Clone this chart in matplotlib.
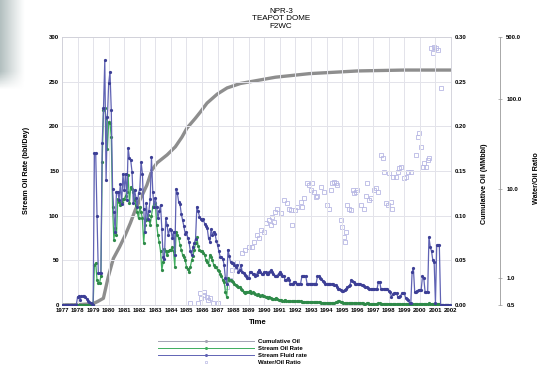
"""NPR-3 Teapot Dome, poço F2WC: vazões, óleo acumulado e razão água/óleo."""

import matplotlib
matplotlib.use("Agg")
import matplotlib.pyplot as plt
import numpy as np
from matplotlib.lines import Line2D
from matplotlib.ticker import FixedLocator, FormatStrFormatter, NullLocator

plt.rcParams["font.family"] = ["Liberation Sans", "DejaVu Sans"]

# vazao de fluido (bbl/dia), mensal, jan/1977 .. dez/2001
fluid_rate = [
    0, 0, 0, 0, 0, 0, 0, 0, 0, 0, 0, 0,                      # 1977
    9, 10, 6, 10, 10, 10, 9, 7, 5, 3, 2, 1,                  # 1978
    0, 170, 170, 100, 36, 36, 36, 181, 220, 274, 140, 210,   # 1979
    248, 261, 218, 130, 104, 82, 127, 127, 118, 135, 113, 147,  # 1980
    129, 147, 118, 176, 164, 162, 149, 114, 129, 120, 110, 125,  # 1981
    130, 160, 147, 108, 82, 114, 96, 105, 119, 166, 127, 110,    # 1982
    120, 110, 97, 105, 112, 85, 54, 52, 97, 90, 78, 85,      # 1983
    84, 75, 82, 56, 130, 125, 115, 113, 102, 95, 88, 80,     # 1984
    82, 75, 70, 60, 56, 65, 69, 74, 110, 105, 99, 96,        # 1985
    95, 96, 91, 88, 86, 75, 71, 85, 78, 82, 80, 72,          # 1986
    67, 60, 54, 54, 52, 45, 30, 24, 62, 55, 48, 47,          # 1987
    47, 45, 43, 45, 37, 39, 45, 37, 36, 34, 33, 30,          # 1988
    30, 37, 37, 35, 35, 33, 34, 37, 39, 37, 35, 35,          # 1989
    37, 37, 35, 35, 37, 39, 37, 35, 33, 33, 33, 35,          # 1990
    37, 35, 33, 33, 28, 28, 30, 28, 24, 24, 24, 26,          # 1991
    26, 24, 24, 24, 24, 32, 32, 32, 32, 24, 24, 24,          # 1992
    24, 24, 24, 24, 24, 32, 32, 30, 29, 27, 26, 24,          # 1993
    24, 24, 24, 24, 23, 23, 22, 22, 20, 18, 18, 17,          # 1994
    16, 16, 17, 18, 20, 21, 22, 28, 27, 26, 24, 24,          # 1995
    24, 24, 23, 22, 22, 21, 20, 20, 19, 18, 18, 18,          # 1996
    18, 18, 18, 18, 26, 26, 18, 18, 18, 18, 18, 18,          # 1997
    16, 15, 9, 12, 13, 13, 13, 9, 9, 10, 13, 13,             # 1998
    13, 8, 7, 6, 2, 2, 37, 41, 15, 15, 16, 17,               # 1999
    17, 17, 32, 30, 15, 14, 14, 76, 65, 60, 50, 48,          # 2000
    2, 67, 67, 67, 0, 0, 0, 0, 0, 0, 0, 0,                   # 2001
]

# vazao de oleo (bbl/dia), mensal
oil_rate = [
    0, 0, 0, 0, 0, 0, 0, 0, 0, 0, 0, 0,                      # 1977
    0, 0, 0, 0, 0, 0, 0, 0, 0, 0, 0, 0,                      # 1978
    0, 45, 47, 28, 25, 25, 32, 160, 218, 220, 209, 175,      # 1979
    205, 204, 188, 110, 73, 86, 78, 119, 115, 112, 115, 119, # 1980
    119, 122, 127, 145, 114, 132, 130, 127, 118, 112, 104, 97,  # 1981
    110, 104, 97, 69, 90, 95, 101, 95, 90, 100, 110, 114,    # 1982
    114, 90, 78, 70, 60, 39, 48, 63, 60, 56, 60, 62,         # 1983
    62, 65, 60, 43, 82, 78, 75, 67, 62, 56, 54, 50,          # 1984
    43, 40, 37, 43, 50, 55, 62, 69, 76, 66, 62, 60,          # 1985
    60, 58, 56, 50, 48, 45, 56, 54, 50, 45, 43, 42,          # 1986
    39, 38, 35, 32, 28, 26, 15, 9, 30, 28, 28, 27,           # 1987
    26, 24, 22, 21, 20, 20, 18, 17, 15, 13, 15, 14,          # 1988
    15, 16, 13, 14, 13, 12, 11, 12, 11, 10, 11, 10,          # 1989
    10, 9, 9, 8, 9, 8, 7, 7, 7, 8, 7, 6,                     # 1990
    6, 6, 5, 5, 6, 5, 4, 4, 4, 4, 4, 4,                      # 1991
    4, 4, 4, 4, 4, 3.5, 3.5, 3.5, 3.5, 3.5, 3, 3,            # 1992
    3, 3, 3, 3, 3, 3, 3, 3, 2.5, 2.5, 2.5, 2.5,              # 1993
    2.5, 2.5, 2.5, 2.5, 2.5, 2.5, 2.5, 3, 3.5, 4, 4, 3.5,    # 1994
    3, 2.5, 2.5, 2, 2, 2, 2, 2, 2, 2, 2, 2,                  # 1995
    2, 2, 2.5, 2, 2, 1.5, 1.5, 2, 2, 1.5, 1.5, 1.5,          # 1996
    1.5, 1.5, 1.5, 1.5, 2, 2, 1.5, 1.5, 1.5, 1.5, 1.5, 1.5,  # 1997
    1.5, 1.5, 1, 1, 1, 1, 1, 1, 1, 1, 1, 1,                  # 1998
    1, 1, 1, 1, 0.5, 0.5, 1.5, 1.5, 1, 1, 1, 1,              # 1999
    1, 1, 1.5, 1.5, 1, 1, 1, 2, 1.5, 1.5, 1, 1,              # 2000
    0, 1, 1, 1, 0, 0, 0, 0, 0, 0, 0, 0,                      # 2001
]

# oleo acumulado (MMbbl)
cum_years = [1977.0, 1978.0, 1979.0, 1979.3, 1979.66, 1979.98, 1980.3, 1980.7,
             1981.06, 1981.4, 1981.7, 1982.1, 1982.45, 1982.78, 1983.1, 1983.75,
             1984.28, 1984.71, 1985.03, 1985.57, 1985.89, 1986.32, 1986.97,
             1987.61, 1988.47, 1989.76, 1990.72, 1992.9, 1996.0, 1999.0, 2001.92]
cum_oil = [0, 0.0003, 0.0015, 0.004, 0.0075, 0.032, 0.052, 0.065,
           0.078, 0.092, 0.106, 0.121, 0.134, 0.151, 0.159, 0.168,
           0.177, 0.188, 0.198, 0.209, 0.216, 0.226, 0.236,
           0.243, 0.248, 0.252, 0.255, 0.259, 0.262, 0.263, 0.263]

# razao agua/oleo
wor_years = [1985.25, 1985.76, 1985.9, 1985.95, 1986.1, 1986.15, 1986.3, 1986.4,
             1986.5, 1986.7, 1987.0, 1987.61, 1987.82, 1987.93, 1988.15, 1988.26,
             1988.58, 1988.79, 1989.0, 1989.22, 1989.33, 1989.55, 1989.65, 1989.76,
             1989.97, 1990.08, 1990.29, 1990.4, 1990.51, 1990.6, 1990.72, 1990.83,
             1991.05, 1991.26, 1991.48, 1991.58, 1991.69, 1991.8, 1992.0, 1992.12,
             1992.34, 1992.44, 1992.55, 1992.77, 1992.87, 1992.98, 1993.09, 1993.19,
             1993.3, 1993.41, 1993.62, 1993.84, 1994.05, 1994.16, 1994.27, 1994.38,
             1994.48, 1994.59, 1994.7, 1994.91, 1995.02, 1995.13, 1995.18, 1995.23,
             1995.34, 1995.45, 1995.56, 1995.67, 1995.77, 1995.88, 1995.99, 1996.2,
             1996.41, 1996.52, 1996.63, 1996.74, 1996.85, 1997.06, 1997.17, 1997.28,
             1997.49, 1997.6, 1997.7, 1997.81, 1997.92, 1998.02, 1998.13, 1998.24,
             1998.3, 1998.46, 1998.57, 1998.67, 1998.78, 1999.0, 1999.1, 1999.21,
             1999.42, 1999.75, 1999.85, 1999.96, 2000.07, 2000.18, 2000.28, 2000.39,
             2000.5, 2000.6, 2000.71, 2000.82, 2000.92, 2001.03, 2001.14, 2001.36]
wor = [0.53, 0.53, 0.68, 0.6, 0.70, 0.65, 0.61, 0.57,
       0.6, 0.53, 0.53, 0.80, 0.95, 1.23, 1.33, 1.53,
       1.90, 2.07, 2.25, 2.25, 2.56, 3.04, 2.79, 3.45,
       3.3, 4.1, 4.47, 3.93, 4.87, 4.28, 5.5, 6.0,
       5.3, 7.5, 6.9, 6.0, 5.8, 3.93, 5.8, 6.3,
       7.2, 6.3, 7.8, 11.5, 11.0, 9.7, 11.5, 9.3,
       8.1, 8.4, 10.5, 9.3, 6.6, 6.0, 9.7, 11.5,
       12.0, 11.5, 11.0, 4.47, 3.76, 2.9, 2.55, 3.3,
       6.6, 6.0, 5.8, 9.7, 9.0, 9.3, 9.7, 6.6,
       6.0, 8.4, 11.5, 7.5, 7.8, 9.7, 10.1, 9.3,
       23.9, 21.9, 15.5, 6.9, 6.6, 14.9, 7.2, 6.0,
       13.6, 13.6, 15.5, 16.9, 17.7, 13.1, 13.6, 15.5,
       15.5, 23.9, 38.3, 42.4, 29.6, 17.7, 19.3, 17.7,
       21.0, 21.9, 373, 329, 389, 373, 357, 133]

year_ticks = list(range(1977, 2003))
rate_ticks = [0, 50, 100, 150, 200, 250, 300]
cum_ticks = [0.0, 0.05, 0.10, 0.15, 0.20, 0.25, 0.30]
wor_ticks = [0.5, 1.0, 10.0, 100.0, 500.0]

months = 1977 + np.arange(len(fluid_rate)) / 12

cor_fluido = "#6063b4"
cor_oleo = "#3fae5e"
cor_acum = "#8e8e8e"
cor_wor = "#b8b8e4"
cor_grade = "#e3e3ea"

fig = plt.figure(figsize=(5.5, 3.7), dpi=100)

# faixa cinza do slide no canto superior esquerdo
faixa = fig.add_axes([0, 1 - 90 / 370, 24 / 550, 90 / 370])
grad = np.linspace(0, 1, 60)
img = np.ones((60, 60, 4))
img[..., 0] = 0.70
img[..., 1] = 0.75
img[..., 2] = 0.75
alpha = (1 - grad)[None, :] ** 1.1 * np.minimum(1, (1 - grad[:, None]) * 5)
img[..., 3] = alpha
faixa.imshow(img, aspect="auto", extent=(0, 1, 0, 1))
faixa.axis("off")

ax = fig.add_axes([62 / 550, 65 / 370, 389 / 550, 268 / 370])
ax.set_xlim(1977, 2002)
ax.set_ylim(0, 300)
ax.set_xticks(year_ticks)
ax.set_yticks(rate_ticks)
ax.grid(True, color=cor_grade, lw=0.7)
ax.set_axisbelow(True)
for s in ax.spines.values():
    s.set_color("#cfcfd8")
    s.set_linewidth(0.6)
ax.tick_params(labelsize=4.3, length=0, pad=2)
for lab in ax.get_xticklabels() + ax.get_yticklabels():
    lab.set_fontweight("bold")

ax_cum = ax.twinx()
ax_cum.set_ylim(0, 0.30)
ax_cum.set_yticks(cum_ticks)
ax_cum.yaxis.set_major_formatter(FormatStrFormatter("%.2f"))
ax_cum.tick_params(labelsize=4.3, length=0, pad=3)
for lab in ax_cum.get_yticklabels():
    lab.set_fontweight("bold")
for s in ax_cum.spines.values():
    s.set_visible(False)

ax_wor = ax.twinx()
ax_wor.set_yscale("log")
ax_wor.set_ylim(0.5, 500)
ax_wor.spines["right"].set_position(("axes", (500 - 62) / 389))
for k in ["left", "top", "bottom"]:
    ax_wor.spines[k].set_visible(False)
ax_wor.spines["right"].set_color("#9a9a9a")
ax_wor.spines["right"].set_linewidth(0.6)
ax_wor.yaxis.set_major_locator(FixedLocator(wor_ticks))
ax_wor.yaxis.set_minor_locator(NullLocator())
ax_wor.yaxis.set_major_formatter(FormatStrFormatter("%.1f"))
ax_wor.tick_params(labelsize=4.3, length=3, width=0.5, color="#9a9a9a",
                   direction="inout", pad=3)
for lab in ax_wor.get_yticklabels():
    lab.set_fontweight("bold")

# series
ax_wor.plot(wor_years, wor, ls="none", marker="s", ms=2.2, mfc="none",
            mec=cor_wor, mew=0.6, zorder=2)
ax_cum.plot(cum_years, cum_oil, color=cor_acum, lw=2.4, zorder=3)
ax.plot(months, oil_rate, color=cor_oleo, lw=0.9, marker="o", ms=1.3,
        mec="#2f8a49", mfc="#2f8a49", zorder=4)
ax.plot(months, fluid_rate, color=cor_fluido, lw=0.9, marker="o", ms=1.3,
        mec="#3d3f96", mfc="#3d3f96", zorder=5)

# ordem de desenho: eixo de vazao por cima
ax.set_zorder(ax_wor.get_zorder() + 2)
ax.patch.set_visible(False)
ax_cum.set_zorder(ax.get_zorder() - 1)

fig.text(27 / 550, 1 - 170 / 370, "Stream Oil Rate (bbl/Day)", rotation=90,
         ha="center", va="center", fontsize=5.2, fontweight="bold")
fig.text(484 / 550, 1 - 184 / 370, "Cumulative Oil (MMbbl)", rotation=90,
         ha="center", va="center", fontsize=5.2, fontweight="bold")
fig.text(536 / 550, 1 - 178 / 370, "Water/Oil Ratio", rotation=90,
         ha="center", va="center", fontsize=5.2, fontweight="bold")
fig.text(258 / 550, 1 - 323 / 370, "Time", ha="center", va="center",
         fontsize=5.5, fontweight="bold")
fig.text(281 / 550, 1 - 19 / 370, "NPR-3\nTEAPOT DOME\nF2WC", ha="center",
         va="center", fontsize=5.8, linespacing=1.1)

handles = [
    Line2D([], [], color="#a4a4b4", lw=0.7, marker="o", ms=1.2),
    Line2D([], [], color=cor_oleo, lw=0.7, marker="o", ms=1.2),
    Line2D([], [], color=cor_fluido, lw=0.7, marker="o", ms=1.2),
    Line2D([], [], ls="none", marker="s", ms=2.0, mfc="none", mec=cor_wor, mew=0.5),
]
labels = ["Cumulative Oil", "Stream Oil Rate", "Stream Fluid rate", "Water/Oil Ratio"]
fig.legend(handles, labels, loc="upper left", bbox_to_anchor=(158 / 550, 1 - 339 / 370),
           frameon=False, prop={"weight": "bold", "size": 4.3},
           handlelength=16, handletextpad=0.8, labelspacing=0.3,
           borderaxespad=0, borderpad=0)

fig.savefig("out.png", dpi=100)
plt.close(fig)
